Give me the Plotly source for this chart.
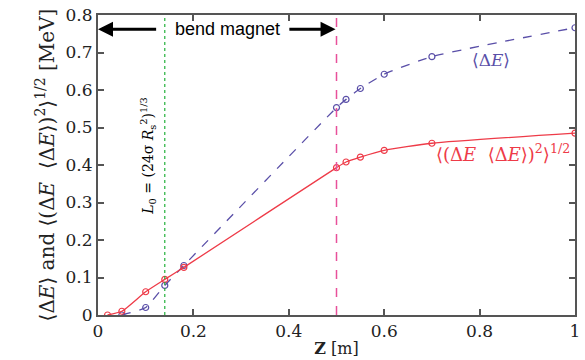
import plotly.graph_objects as go

# Data
z_mean = [0.05, 0.1, 0.14, 0.18, 0.5, 0.52, 0.55, 0.6, 0.7, 1.0]
de_mean = [0.0, 0.02, 0.079, 0.132, 0.553, 0.575, 0.604, 0.642, 0.689, 0.766]
z_rms = [0.02, 0.05, 0.1, 0.14, 0.18, 0.5, 0.52, 0.55, 0.6, 0.7, 1.0]
de_rms = [0.0, 0.01, 0.062, 0.095, 0.127, 0.393, 0.408, 0.421, 0.439, 0.458, 0.485]
x_ticks = [0, 0.2, 0.4, 0.6, 0.8, 1.0]
x_labels = ["0", "0.2", "0.4", "0.6", "0.8", "1"]
y_ticks = [0, 0.1, 0.2, 0.3, 0.4, 0.5, 0.6, 0.7, 0.8]
y_labels = ["0", "0.1", "0.2", "0.3", "0.4", "0.5", "0.6", "0.7", "0.8"]
L0 = 0.14
bend_end = 0.5

PURPLE = "#5a4fa8"
RED = "#ee3b48"
SERIF = "DejaVu Serif"
SANS = "Liberation Sans, Arial, sans-serif"

fig = go.Figure()

fig.add_trace(go.Scatter(
    x=z_mean, y=de_mean, mode="lines+markers",
    line=dict(color=PURPLE, width=1.3, dash="dash", shape="spline", smoothing=0.5),
    marker=dict(symbol="circle-open", size=6, color=PURPLE, line=dict(width=1.2)),
    showlegend=False,
))
fig.add_trace(go.Scatter(
    x=z_rms, y=de_rms, mode="lines+markers",
    line=dict(color=RED, width=1.3, shape="spline", smoothing=0.5),
    marker=dict(symbol="circle-open", size=6, color=RED, line=dict(width=1.2)),
    showlegend=False,
))

# vertical lines
fig.add_shape(type="line", x0=L0, x1=L0, y0=0, y1=0.8, xref="x", yref="y",
              line=dict(color="#22b03a", width=1.2, dash="dot"))
fig.add_shape(type="line", x0=bend_end, x1=bend_end, y0=0, y1=0.8, xref="x", yref="y",
              line=dict(color="#e8509a", width=1.5, dash="dash"))

# arrows
arrow_y = 0.762
fig.add_annotation(x=0.0, y=arrow_y, ax=0.125, ay=arrow_y, xref="x", yref="y",
                   axref="x", ayref="y", text="", showarrow=True,
                   arrowhead=2, arrowsize=1, arrowwidth=3, arrowcolor="black")
fig.add_annotation(x=0.498, y=arrow_y, ax=0.398, ay=arrow_y, xref="x", yref="y",
                   axref="x", ayref="y", text="", showarrow=True,
                   arrowhead=2, arrowsize=1, arrowwidth=3, arrowcolor="black")
fig.add_annotation(x=0.272, y=arrow_y, text="bend magnet", showarrow=False,
                   font=dict(family=SANS, size=18, color="black"))

# rotated L0 label
fig.add_annotation(x=0.105, y=0.425, textangle=-90, showarrow=False,
                   text="<i>L</i><sub>0</sub> = (24σ <i>R</i><sub>s</sub><sup>2</sup>)<sup>1/3</sup>",
                   font=dict(family=SERIF, size=14, color="black"))

# series labels
fig.add_annotation(x=0.824, y=0.679, showarrow=False,
                   text="⟨Δ<i>E</i>⟩", font=dict(family=SERIF, size=17, color=PURPLE))
fig.add_annotation(x=0.85, y=0.432, showarrow=False,
                   text="⟨(Δ<i>E</i>  ⟨Δ<i>E</i>⟩)<sup>2</sup>⟩<sup>1/2</sup>",
                   font=dict(family=SERIF, size=18, color=RED))

axis_common = dict(
    showgrid=False, zeroline=False, showline=True, linecolor="#555555", linewidth=2,
    mirror="ticks", ticks="inside", ticklen=6, tickwidth=1.5, tickcolor="#555555",
    tickfont=dict(family=SERIF, size=17, color="#222222"),
)

fig.update_xaxes(range=[0, 1], tickvals=x_ticks, ticktext=x_labels,
                 title=dict(text="<b>Z</b> [m]", font=dict(family=SERIF, size=16, color="#222222"),
                            standoff=2),
                 **axis_common)
fig.update_yaxes(range=[0, 0.8], tickvals=y_ticks, ticktext=y_labels,
                 title=dict(text="⟨Δ<i>E</i>⟩ and ⟨(Δ<i>E</i>  ⟨Δ<i>E</i>⟩)<sup>2</sup>⟩<sup>1/2</sup> [MeV]",
                            font=dict(family=SERIF, size=20, color="#222222"), standoff=6),
                 **axis_common)

fig.update_layout(
    width=585, height=360,
    margin=dict(l=98, r=5, t=12, b=44),
    plot_bgcolor="white", paper_bgcolor="white",
    font=dict(family=SERIF),
)

fig.write_html("out.html")
